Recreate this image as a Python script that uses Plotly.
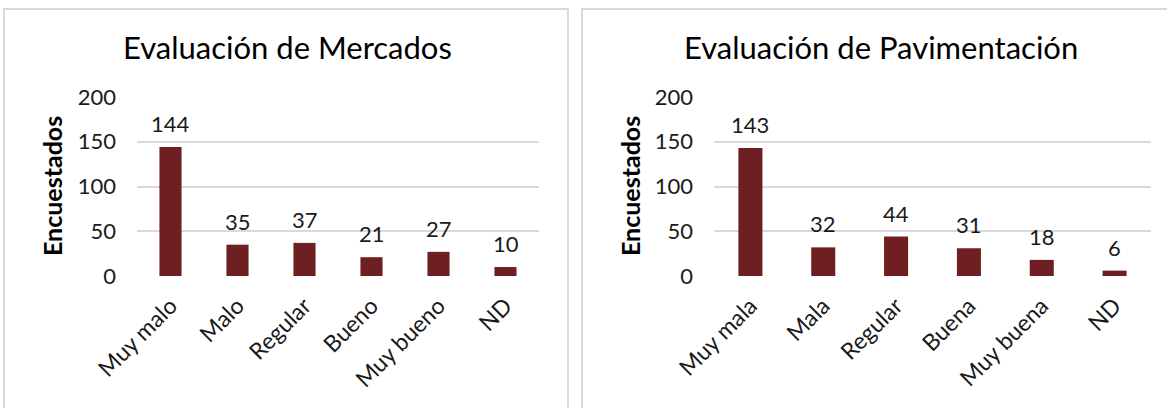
import plotly.graph_objects as go

# data
mercados_cats = ['Muy malo', 'Malo', 'Regular', 'Bueno', 'Muy bueno', 'ND']
mercados_vals = [144, 35, 37, 21, 27, 10]
pav_cats = ['Muy mala', 'Mala', 'Regular', 'Buena', 'Muy buena', 'ND']
pav_vals = [143, 32, 44, 31, 18, 6]
y_ticks = [0, 50, 100, 150, 200]

W, H = 1167, 408
FONT = 'Lato'
BAR = '#6d1f22'
TXT = '#1a1a1a'


def px(x):
    return x / W


def py(y):
    return 1 - y / H


fig = go.Figure()

fig.add_trace(go.Bar(x=mercados_cats, y=mercados_vals, marker_color=BAR,
                     marker_line_width=0, xaxis='x', yaxis='y', showlegend=False))
fig.add_trace(go.Bar(x=pav_cats, y=pav_vals, marker_color=BAR,
                     marker_line_width=0, xaxis='x2', yaxis='y2', showlegend=False))

axis_common = dict(showline=False, zeroline=False, ticks='', automargin=False,
                   tickfont=dict(family=FONT, size=22, color=TXT))
yaxis_common = dict(axis_common, range=[0, 200], tickvals=y_ticks,
                    showgrid=True, gridcolor='#d9d9d9', gridwidth=2, ticklabelstandoff=20)
xaxis_common = dict(axis_common, tickangle=-45, showgrid=False, ticklabelstandoff=11,
                    tickfont=dict(family=FONT, size=23, color=TXT))

annotations = []
# data labels
for cats, vals, xr, yr in [(mercados_cats, mercados_vals, 'x', 'y'),
                           (pav_cats, pav_vals, 'x2', 'y2')]:
    for c, v in zip(cats, vals):
        annotations.append(dict(x=c, y=v, xref=xr, yref=yr, text=str(v),
                                showarrow=False, yanchor='bottom', yshift=8,
                                font=dict(family=FONT, size=22, color=TXT)))

# titles
for title, cx in [('Evaluación de Mercados', 287), ('Evaluación de Pavimentación', 881)]:
    annotations.append(dict(x=px(cx), y=py(47), xref='paper', yref='paper',
                            text=title, showarrow=False, xanchor='center', yanchor='middle',
                            font=dict(family=FONT, size=31, color='#000000')))

# y axis titles
for cx in [52, 630]:
    annotations.append(dict(x=px(cx), y=py(186), xref='paper', yref='paper',
                            text='<b>Encuestados</b>', showarrow=False, textangle=-90,
                            xanchor='center', yanchor='middle',
                            font=dict(family=FONT, size=25, color='#000000')))

shapes = [
    dict(type='rect', xref='paper', yref='paper', x0=px(4), x1=px(568), y0=py(420), y1=py(9),
         line=dict(color='#d9d9d9', width=2), layer='below'),
    dict(type='rect', xref='paper', yref='paper', x0=px(582), x1=px(1180), y0=py(420), y1=py(9),
         line=dict(color='#d9d9d9', width=2), layer='below'),
]

fig.update_layout(
    width=W, height=H,
    margin=dict(l=0, r=0, t=0, b=0, autoexpand=False),
    paper_bgcolor='white', plot_bgcolor='white',
    bargap=0.67,
    xaxis=dict(xaxis_common, domain=[px(137), px(539)], anchor='y'),
    yaxis=dict(yaxis_common, domain=[py(276), py(97)], anchor='x'),
    xaxis2=dict(xaxis_common, domain=[px(714), px(1151)], anchor='y2'),
    yaxis2=dict(yaxis_common, domain=[py(276), py(97)], anchor='x2'),
    annotations=annotations,
    shapes=shapes,
)

# remove the default page margin so the figure sits at the window's corner
fig.write_html('out.html', config={'displayModeBar': False},
               post_script="document.body.style.margin='0';")
